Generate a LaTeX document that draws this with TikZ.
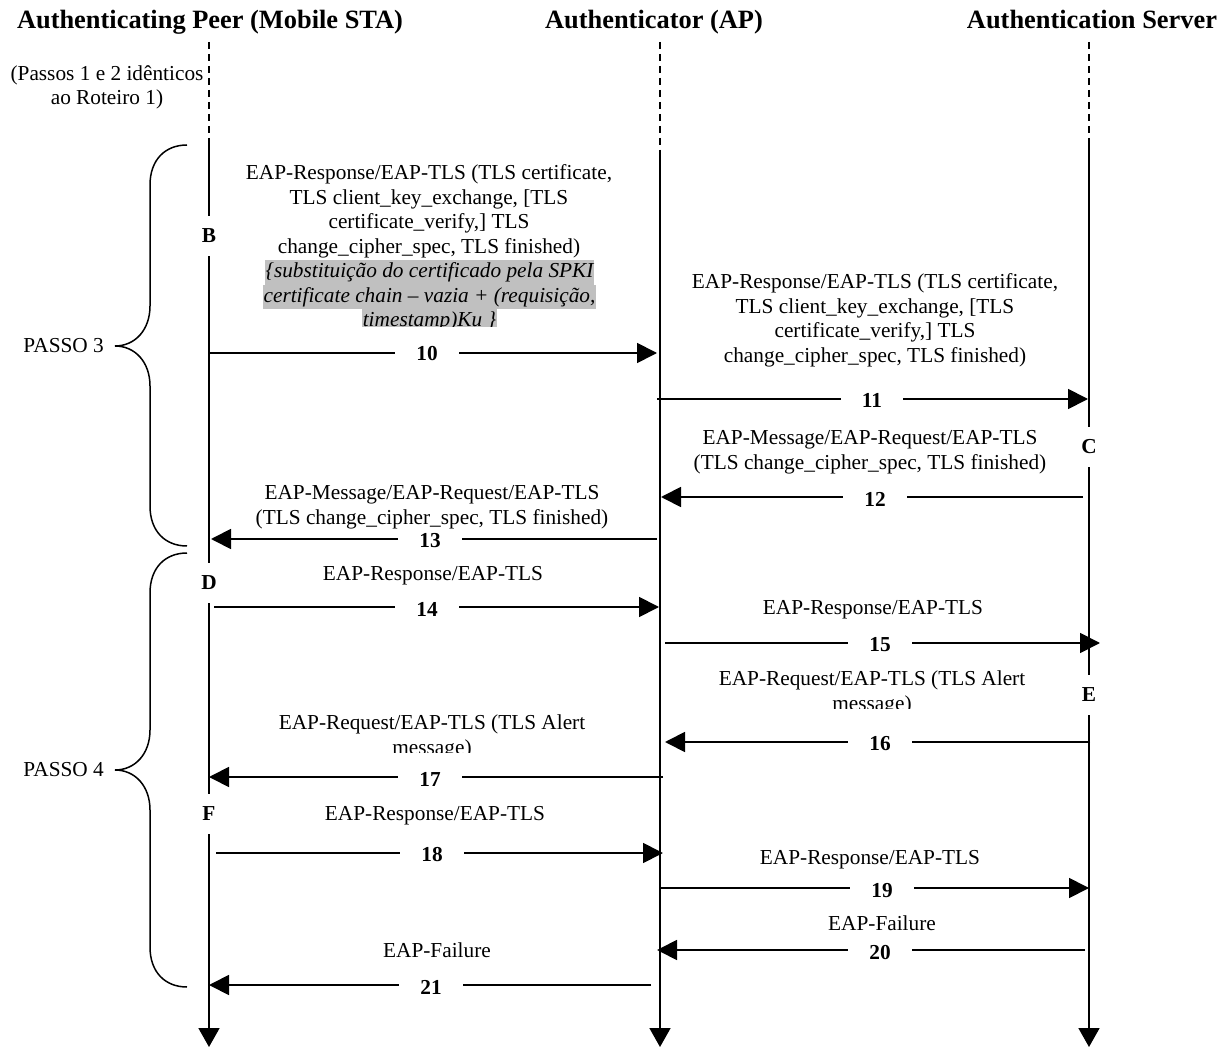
\documentclass[tikz,border=0pt]{standalone}
\usepackage{fontspec}
\setmainfont{Liberation Serif}
\usetikzlibrary{arrows.meta}
\definecolor{hl}{RGB}{192,192,192}
\newcommand\mybody{\fontsize{21.3}{24.5}\selectfont}
\newcommand\myhead{\fontsize{26.4}{30}\selectfont}
\begin{document}
\begin{tikzpicture}[x=1pt,y=-1pt,font=\mybody,
  life/.style={line width=1.8pt,-{Triangle[length=19pt,width=21pt]}},
  lifedash/.style={line width=1.5pt,dash pattern=on 7pt off 5pt},
  msg/.style={line width=1.8pt,-{Triangle[length=20pt,width=20pt]}},
  num/.style={font=\mybody\bfseries,fill=white,inner xsep=21pt,inner ysep=2pt},
  ltr/.style={font=\mybody\bfseries,fill=white,inner xsep=3pt,inner ysep=0pt,minimum height=40pt},
  txt/.style={align=center,anchor=north,inner sep=0pt},
  hd/.style={font=\myhead\bfseries,anchor=base,inner sep=0pt},
  hlt/.style={fill=hl,inner xsep=1pt,inner ysep=0pt,text height=17.5pt,text depth=7pt,anchor=base,font=\mybody\itshape},
  bracestyle/.style={line width=1.5pt}]
\useasboundingbox (0,0) rectangle (1227,1048);

% headers
\node[hd] (hP) at (210,29) {Authenticating Peer (Mobile STA)};
\node[hd] (hA) at (654,29) {Authenticator (AP)};
\node[hd] (hS) at (1092,29) {Authentication Server};

\node[txt] (pre) at (107,65.4) {(Passos 1 e 2 idênticos\\ao Roteiro 1)};

% lifelines
\coordinate (P0) at (209,42); \coordinate (P1) at (209,140); \coordinate (P2) at (209,1047);
\coordinate (A0) at (660,42); \coordinate (A1) at (660,150); \coordinate (A2) at (660,1047);
\coordinate (S0) at (1089,42); \coordinate (S1) at (1089,140); \coordinate (S2) at (1089,1047);
\draw[lifedash] (P0) -- (P1);
\draw[lifedash] (A0) -- (A1);
\draw[lifedash] (S0) -- (S1);
\draw[life] (P1) -- (P2);
\draw[life] (A1) -- (A2);
\draw[life] (S1) -- (S2);

% message end points
\coordinate (m10a) at (209,353);  \coordinate (m10b) at (657,353);
\coordinate (m11a) at (657,399);  \coordinate (m11b) at (1088,399);
\coordinate (m12a) at (1083,497); \coordinate (m12b) at (661,497);
\coordinate (m13a) at (657,539);  \coordinate (m13b) at (211,539);
\coordinate (m14a) at (214,607);  \coordinate (m14b) at (659,607);
\coordinate (m15a) at (665,643);  \coordinate (m15b) at (1100,643);
\coordinate (m16a) at (1090,742); \coordinate (m16b) at (665,742);
\coordinate (m17a) at (663,777);  \coordinate (m17b) at (209,777);
\coordinate (m18a) at (216,853);  \coordinate (m18b) at (663,853);
\coordinate (m19a) at (659,888);  \coordinate (m19b) at (1089,888);
\coordinate (m20a) at (1085,950); \coordinate (m20b) at (657,950);
\coordinate (m21a) at (651,985);  \coordinate (m21b) at (209,985);

\foreach \m in {10,11,...,21} {\draw[msg] (m\m a) -- (m\m b);}

% message numbers
\node[num] (n10) at (427,354) {10};
\node[num] (n11) at (872,400) {11};
\node[num] (n12) at (875,499) {12};
\node[num] (n13) at (430,541) {13};
\node[num] (n14) at (427,609) {14};
\node[num] (n15) at (880,645) {15};
\node[num] (n16) at (880,744) {16};
\node[num] (n17) at (430,779) {17};
\node[num] (n18) at (432,855) {18};
\node[num] (n19) at (882,891) {19};
\node[num] (n20) at (880,953) {20};
\node[num] (n21) at (431,987) {21};

% lifeline letters
\node[ltr] (B) at (209,236) {B};
\node[ltr] (C) at (1089,447) {C};
\node[ltr] (D) at (209,583) {D};
\node[ltr] (E) at (1089,695) {E};
\node[ltr] (F) at (209,814) {F};

% message texts
\node[txt] (t10) at (429,162.4) {\strut EAP-Response/EAP-TLS (TLS certificate,\\TLS client\_key\_exchange, [TLS\\certificate\_verify,] TLS\\change\_cipher\_spec, TLS finished)};
\begin{scope}
  \clip (0,0) rectangle (1227,327);
  \node[hlt] (g1) at (429.5,278) {\{substituição do certificado pela SPKI};
  \node[hlt] (g2) at (429.5,302.5) {certificate chain – vazia + (requisição,};
  \node[hlt] (g3) at (429.5,327) {timestamp)Ku \}};
\end{scope}
\node[txt] (t11) at (875,271.4) {\strut EAP-Response/EAP-TLS (TLS certificate,\\TLS client\_key\_exchange, [TLS\\certificate\_verify,] TLS\\change\_cipher\_spec, TLS finished)};
\node[txt] (t12) at (870,427.4) {\strut EAP-Message/EAP-Request/EAP-TLS\\(TLS change\_cipher\_spec, TLS finished)};
\node[txt] (t13) at (432,482.4) {\strut EAP-Message/EAP-Request/EAP-TLS\\(TLS change\_cipher\_spec, TLS finished)};
\node[txt] (t14) at (433,563.4) {\strut EAP-Response/EAP-TLS};
\node[txt] (t15) at (873,597.4) {\strut EAP-Response/EAP-TLS};
\begin{scope}
  \clip (0,600) rectangle (1227,708);
  \node[txt] (t16) at (872,668.4) {\strut EAP-Request/EAP-TLS (TLS Alert\\message)};
\end{scope}
\begin{scope}
  \clip (0,700) rectangle (1227,752);
  \node[txt] (t17) at (432,712.4) {\strut EAP-Request/EAP-TLS (TLS Alert\\message)};
\end{scope}
\node[txt] (t18) at (435,803.4) {\strut EAP-Response/EAP-TLS};
\node[txt] (t19) at (870,847.4) {\strut EAP-Response/EAP-TLS};
\node[txt] (t20) at (882,913.4) {\strut EAP-Failure};
\node[txt] (t21) at (437,940.4) {\strut EAP-Failure};

% braces
\draw[bracestyle] (187,145) .. controls (165,145) and (150,160) .. (150,185) -- (150,306)
  .. controls (150,330) and (135,346) .. (115,346)
  .. controls (135,346) and (150,362) .. (150,386) -- (150,506)
  .. controls (150,531) and (165,546) .. (187,546);
\draw[bracestyle] (187,553) .. controls (165,553) and (150,568) .. (150,593) -- (150,730)
  .. controls (150,754) and (135,770) .. (115,770)
  .. controls (135,770) and (150,786) .. (150,810) -- (150,947)
  .. controls (150,972) and (165,987) .. (187,987);
\node[anchor=east,inner sep=0pt] (ps3) at (104,346) {PASSO 3};
\node[anchor=east,inner sep=0pt] (ps4) at (104,770) {PASSO 4};
\end{tikzpicture}
\end{document}
